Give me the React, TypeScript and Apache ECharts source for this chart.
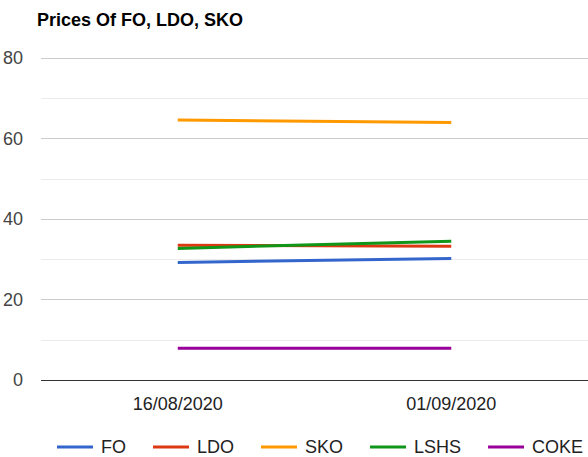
import React, { useEffect, useRef } from "react";
import * as echarts from "echarts";

const categories = ["16/08/2020", "01/09/2020"];
const fo = [29.2, 30.2];
const ldo = [33.5, 33.2];
const sko = [64.6, 64.0];
const lshs = [32.7, 34.5];
const coke = [7.9, 7.9];
const seriesNames = ["FO", "LDO", "SKO", "LSHS", "COKE"];
const seriesColors = ["#3366cc", "#dc3912", "#ff9900", "#109618", "#990099"];

export default function App() {
  const ref = useRef<HTMLDivElement>(null);
  useEffect(() => {
    if (!ref.current) return;
    const chart = echarts.init(ref.current, undefined, { renderer: "svg" });
    const data = [fo, ldo, sko, lshs, coke];
    chart.setOption({
      animation: false,
      textStyle: { fontFamily: "Arial, 'Liberation Sans', sans-serif" },
      title: {
        text: "Prices Of FO, LDO, SKO",
        left: 32,
        top: 6,
        textStyle: { fontSize: 18, fontWeight: "bold", color: "#000", fontFamily: "Arial, 'Liberation Sans', sans-serif" },
      },
      legend: {
        left: 52,
        top: 434,
        width: 560,
        padding: [3, 5, 3, 5],
        icon: "rect",
        itemWidth: 36,
        itemHeight: 3,
        itemGap: 27,
        textStyle: { fontSize: 18, lineHeight: 20, color: "#222", padding: [0, 0, 0, 3] },
        data: seriesNames,
      },
      grid: { left: 37, right: -15, top: 58, bottom: 77, containLabel: false },
      xAxis: {
        type: "category",
        data: categories,
        boundaryGap: true,
        axisLine: { show: false },
        axisTick: { show: false },
        axisLabel: { fontSize: 18, color: "#222", margin: 15 },
      },
      yAxis: {
        type: "value",
        min: 0,
        max: 80,
        interval: 20,
        axisLine: { show: false },
        axisTick: { show: false },
        axisLabel: { fontSize: 18, color: "#444", margin: 18 },
        splitLine: { lineStyle: { color: "#cccccc", width: 1 } },
        minorTick: { show: false, splitNumber: 2 },
        minorSplitLine: { show: true, lineStyle: { color: "#ebebeb", width: 1 } },
      },
      series: [
        ...seriesNames.map((name, i) => ({
          name,
          type: "line",
          data: data[i],
          symbol: "none",
          color: seriesColors[i],
          lineStyle: { width: 3, color: seriesColors[i] },
        })),
        {
          name: "_axis",
          type: "line",
          data: [],
          markLine: {
            silent: true,
            symbol: "none",
            label: { show: false },
            lineStyle: { color: "#333", width: 1, type: "solid" },
            data: [{ yAxis: 0 }],
          },
        },
      ],
    });
    return () => chart.dispose();
  }, []);
  return <div ref={ref} style={{ width: 588, height: 457, position: "absolute", left: 0, top: 0 }} />;
}
